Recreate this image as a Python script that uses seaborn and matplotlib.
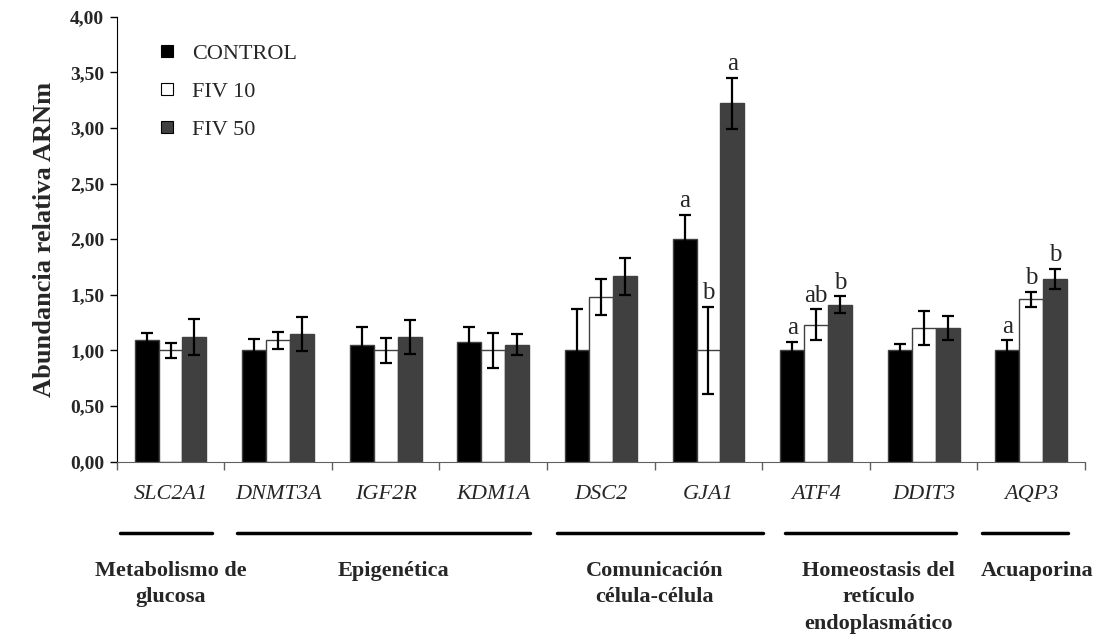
import numpy as np
import pandas as pd
import matplotlib
matplotlib.use("Agg")
import matplotlib.pyplot as plt
from matplotlib.lines import Line2D
from matplotlib.ticker import FuncFormatter, MultipleLocator
import seaborn as sns

# Datos
genes = ["SLC2A1", "DNMT3A", "IGF2R", "KDM1A", "DSC2", "GJA1", "ATF4", "DDIT3", "AQP3"]
grupos = ["CONTROL", "FIV 10", "FIV 50"]

control = [1.09, 1.00, 1.05, 1.08, 1.00, 2.00, 1.00, 1.00, 1.00]
fiv10 = [1.00, 1.09, 1.00, 1.00, 1.48, 1.00, 1.23, 1.20, 1.46]
fiv50 = [1.12, 1.15, 1.12, 1.05, 1.665, 3.22, 1.41, 1.20, 1.64]

err_control = [0.07, 0.10, 0.16, 0.13, 0.37, 0.22, 0.08, 0.06, 0.09]
err_fiv10 = [0.065, 0.08, 0.11, 0.16, 0.16, 0.39, 0.14, 0.155, 0.065]
err_fiv50 = [0.165, 0.155, 0.155, 0.095, 0.165, 0.23, 0.075, 0.11, 0.09]

# letras de significancia (gen, grupo, letra)
letras = [("GJA1", "CONTROL", "a"), ("GJA1", "FIV 10", "b"), ("GJA1", "FIV 50", "a"),
          ("ATF4", "CONTROL", "a"), ("ATF4", "FIV 10", "ab"), ("ATF4", "FIV 50", "b"),
          ("AQP3", "CONTROL", "a"), ("AQP3", "FIV 10", "b"), ("AQP3", "FIV 50", "b")]

# categorías funcionales: etiqueta, inicio/fin de la línea, centro del texto
categorias = ["Metabolismo de\nglucosa", "Epigenética", "Comunicación\ncélula-célula",
              "Homeostasis del\nretículo\nendoplasmático", "Acuaporina"]
cat_inicio = [-0.47, 0.62, 3.59, 5.71, 7.54]
cat_fin = [0.39, 3.34, 5.51, 7.30, 8.34]
cat_centro = [0.0, 2.07, 4.5, 6.58, 8.05]

colores = {"CONTROL": "#000000", "FIV 10": "#ffffff", "FIV 50": "#404040"}

df = pd.DataFrame({
    "gen": genes * 3,
    "grupo": np.repeat(grupos, len(genes)),
    "valor": control + fiv10 + fiv50,
    "err": err_control + err_fiv10 + err_fiv50,
})

sns.set_style("ticks")
plt.rcParams["font.family"] = ["Liberation Serif", "DejaVu Serif"]

fig = plt.figure(figsize=(10.99, 6.35), dpi=100)
ax = fig.add_axes([0.1062, 0.2729, 0.8811, 0.7008])

sns.barplot(data=df, x="gen", y="valor", hue="grupo", order=genes, hue_order=grupos,
            palette=colores, width=0.667, gap=0, errorbar=None,
            edgecolor="#404040", linewidth=1, legend=False, ax=ax)

# barras de error y letras
for cont, g in zip(ax.containers, grupos):
    sub = df[df["grupo"] == g].set_index("gen").loc[genes]
    xs = [p.get_x() + p.get_width() / 2 for p in cont.patches]
    ax.errorbar(xs, sub["valor"], yerr=sub["err"], fmt="none", ecolor="black",
                elinewidth=1.6, capsize=4.5, capthick=1.6, zorder=5)
    for gen, grupo, letra in letras:
        if grupo != g:
            continue
        i = genes.index(gen)
        top = sub.loc[gen, "valor"] + sub.loc[gen, "err"]
        ax.annotate(letra, (xs[i], top), xytext=(0, 2), textcoords="offset points",
                    ha="center", va="bottom", fontsize=18)

ax.set_xlim(-0.5, len(genes) - 0.5)
ax.set_ylim(0, 4)
ax.yaxis.set_major_locator(MultipleLocator(0.5))
ax.yaxis.set_major_formatter(FuncFormatter(lambda v, p: f"{v:.2f}".replace(".", ",")))
for t in ax.get_yticklabels():
    t.set_fontweight("bold")
    t.set_fontsize(14)
ax.tick_params(axis="y", length=5, width=1, color="black", pad=4)

ax.set_xticks(range(len(genes)))
ax.set_xticklabels(genes, fontstyle="italic", fontsize=16)
ax.set_xticks(np.arange(-0.5, len(genes)), minor=True)
ax.tick_params(axis="x", which="major", length=0, pad=17)
ax.tick_params(axis="x", which="minor", length=6, width=1, color="#606060")

ax.set_xlabel("")
ax.set_ylabel("Abundancia relativa ARNm", fontsize=19, fontweight="bold", labelpad=10)

sns.despine(ax=ax)
ax.spines["left"].set_color("black")
ax.spines["bottom"].set_color("#606060")

# líneas y etiquetas de categorías
trans = ax.get_xaxis_transform()
for nombre, x0, x1, xc in zip(categorias, cat_inicio, cat_fin, cat_centro):
    ax.plot([x0, x1], [-0.16, -0.16], color="black", lw=2.5, transform=trans, clip_on=False)
    ax.text(xc, -0.222, nombre, transform=trans, ha="center", va="top",
            fontsize=16, fontweight="bold", linespacing=1.45)

# leyenda
handles = [Line2D([], [], linestyle="none", marker="s", markersize=8,
                  markerfacecolor=colores[g], markeredgecolor="black", markeredgewidth=0.8)
           for g in grupos]
ax.legend(handles, grupos, loc="upper left", bbox_to_anchor=(0.02, 0.985), frameon=False,
          fontsize=16, handletextpad=0.6, labelspacing=0.78, handlelength=1.0)

fig.savefig("out.png", dpi=100)
